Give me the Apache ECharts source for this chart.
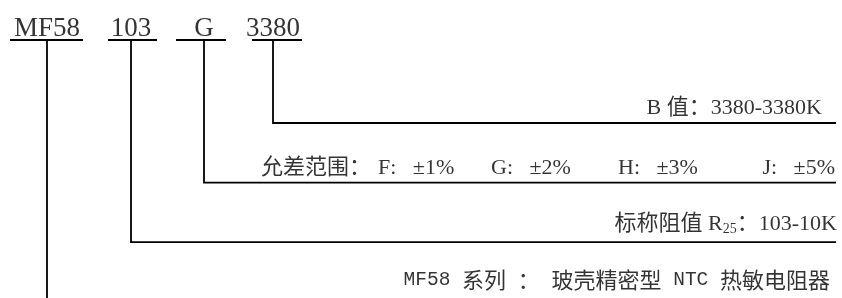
<!DOCTYPE html>
<html>
<head>
<meta charset="utf-8">
<script src="https://cdn.jsdelivr.net/npm/echarts@6/dist/echarts.min.js"></script>
<style>
  html, body { margin: 0; padding: 0; background: #fff; }
  #main { width: 842px; height: 298px; }
</style>
</head>
<body>
<div id="main"></div>
<script>
// 型号各段
var codes = ['MF58', '103', 'G', '3380'];
var codeX = [47, 131, 204, 273];          // 竖线所在位置
var ulFrom = [10, 108, 176, 252];         // 下划线起止
var ulTo = [83, 157, 226, 302];
var rowLevel = [3, 2, 1, 0];              // 每段引出线所在的行
var ulLevel = -1.39;
var lineEnd = 836;

// 说明文字
var seriesDesc = 'MF58 系列 ： 玻壳精密型 NTC 热敏电阻器';
var r25Desc = '标称阻值 R{sub|25}：103-10K';
var tolTitle = '允差范围：';
var tolCodes = ['F', 'G', 'H', 'J'];
var tolValues = ['±1%', '±2%', '±3%', '±5%'];
var bDesc = 'B 值：3380-3380K';

var tolWidths = [117, 113, 127, 140, 77]; // 各段占位宽度
var descOffset = [[-6, -22], [1, -18], [-1, -14], [-14, -15]];

var serif = "'Liberation Serif', 'Noto Sans CJK SC'";

// 宋体样式：拉丁字母用等宽细字，中文用黑体
function songText(s) {
    return s.replace(/[\x20-\x7e]+|[^\x20-\x7e]+/g, function (m) {
        return /^[\x20-\x7e]/.test(m) ? '{lat|' + m + '}' : '{cjk|' + m + '}';
    });
}

var tolText = '{w0|' + tolTitle + '}';
for (var k = 0; k < tolCodes.length; k++) {
    tolText += '{w' + (k + 1) + '|' + tolCodes[k] + ':   ' + tolValues[k] + '}';
}
var descs = [songText(seriesDesc), r25Desc, tolText, bDesc];

var myChart = echarts.init(document.getElementById('main'));

var leaders = [], underlines = [], codePts = [], descPts = [];
for (var i = 0; i < codes.length; i++) {
    leaders.push({ coords: [[codeX[i], ulLevel], [codeX[i], rowLevel[i]], [lineEnd, rowLevel[i]]] });
    underlines.push({ coords: [[ulFrom[i], ulLevel], [ulTo[i], ulLevel]] });
    codePts.push({ value: [codeX[i], ulLevel], name: codes[i] });
    descPts.push({
        value: [lineEnd, rowLevel[i]],
        name: descs[i],
        label: { offset: descOffset[i] }
    });
}

var rich = {
    sub: { fontFamily: serif, fontSize: 14, color: '#000', padding: [10, 0, 0, 0] },
    lat: { fontFamily: "'Liberation Mono'", fontSize: 19.5, color: '#000' },
    cjk: { fontFamily: "'Noto Sans CJK SC'", fontSize: 22, color: '#000' }
};
for (var w = 0; w < tolWidths.length; w++) {
    rich['w' + w] = {
        fontFamily: serif, fontSize: 22, color: '#000',
        width: tolWidths[w], align: w === tolWidths.length - 1 ? 'right' : 'left'
    };
}

var option = {
    animation: false,
    grid: { left: 0, right: 0, top: 0, bottom: 0 },
    xAxis: { type: 'value', min: 0, max: 842, show: false },
    yAxis: { type: 'value', min: -2.064, max: 2.936, inverse: true, show: false },
    series: [
        {
            type: 'lines',
            coordinateSystem: 'cartesian2d',
            polyline: true,
            silent: true,
            clip: true,
            lineStyle: { color: '#000', width: 1.8, opacity: 1 },
            data: leaders
        },
        {
            type: 'lines',
            coordinateSystem: 'cartesian2d',
            silent: true,
            lineStyle: { color: '#000', width: 1.8, opacity: 1 },
            data: underlines
        },
        {
            type: 'scatter',
            symbolSize: 0,
            silent: true,
            label: {
                show: true,
                position: 'top',
                distance: -2,
                color: '#000',
                fontFamily: serif,
                fontSize: 27,
                formatter: '{b}'
            },
            data: codePts
        },
        {
            type: 'scatter',
            symbolSize: 0,
            silent: true,
            clip: false,
            label: {
                show: true,
                position: 'left',
                distance: 0,
                color: '#000',
                fontFamily: serif,
                fontSize: 22,
                formatter: '{b}',
                rich: rich
            },
            data: descPts
        }
    ]
};
myChart.setOption(option);
</script>
</body>
</html>
